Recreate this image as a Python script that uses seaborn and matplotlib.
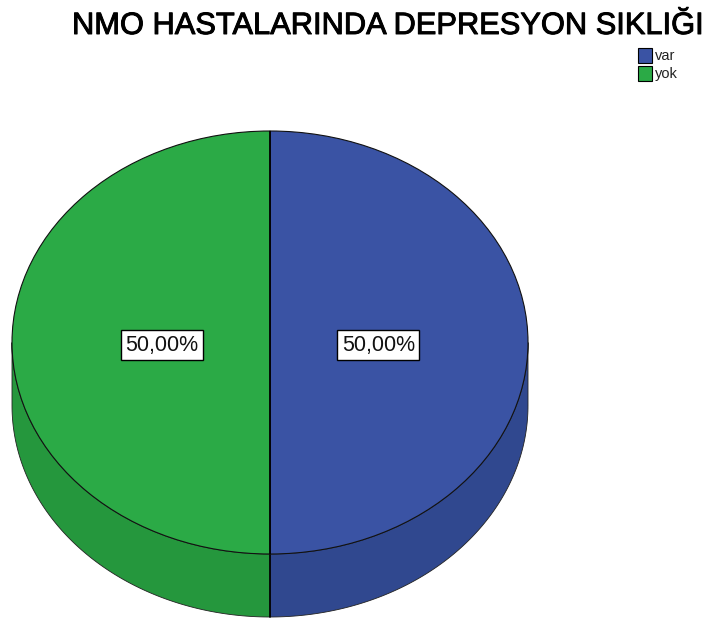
import matplotlib
matplotlib.use("Agg")
import matplotlib.pyplot as plt
import matplotlib.patheffects as pe
import seaborn as sns
import numpy as np
from matplotlib.patches import Polygon, Rectangle

sns.set_theme(style="white")
plt.rcParams['font.family'] = ['Liberation Sans', 'DejaVu Sans']

title = "NMO HASTALARINDA DEPRESYON SIKLIĞI"
categories = ["var", "yok"]
values = [50.0, 50.0]
colors = ["#3a53a4", "#2baa46"]
side_colors = ["#30488f", "#25973d"]

W, H = 709, 619
fig = plt.figure(figsize=(W / 100, H / 100), dpi=100)

# pie bbox in pixels (top ellipse)
x0, x1 = 12, 528
y0, y1 = 131, 554
depth_px = 63
ry_px = (y1 - y0) / 2
ax = fig.add_axes([x0 / W, 1 - y1 / H, (x1 - x0) / W, (y1 - y0) / H])
d = depth_px / ry_px


def side_poly(t0, t1, col):
    ts = np.linspace(np.radians(t0), np.radians(t1), 120)
    top = np.column_stack([np.cos(ts), np.sin(ts)])
    bot = np.column_stack([np.cos(ts[::-1]), np.sin(ts[::-1]) - d])
    pts = np.vstack([top, bot])
    ax.add_patch(Polygon(pts, closed=True, facecolor=col, edgecolor="#222222",
                         linewidth=0.6, clip_on=False, zorder=1))


# visible side walls: var (blue) on right half, yok (green) on left half
side_poly(270, 360, side_colors[0])
side_poly(180, 270, side_colors[1])
ax.plot([0, 0], [-1, -1 - d], color="black", linewidth=1.2, clip_on=False, zorder=2)

wedges, texts, autotexts = ax.pie(
    values, colors=colors, startangle=90, counterclock=False,
    autopct=lambda p: f"{p:.2f}%".replace(".", ","), pctdistance=0.42,
    wedgeprops=dict(edgecolor="#111111", linewidth=0.8),
    textprops=dict(fontsize=15.5, color="#111111"), radius=1, frame=True)
ax.set_aspect("auto")
ax.set_xlim(-1, 1)
ax.set_ylim(-1, 1)
ax.axis("off")
for w in wedges:
    w.set_zorder(3)
ax.plot([0, 0], [-1, 1], color="black", linewidth=1.2, zorder=4)
for t in autotexts:
    x, y = t.get_position()
    t.set_position((x, y - 0.012))
    t.set_bbox(dict(facecolor="white", edgecolor="black", boxstyle="square,pad=0.2", linewidth=1.0))
    t.set_zorder(5)

fig.text(72 / W, 1 - 26 / H, title, fontsize=22.2, ha="left", va="center", color="black",
         path_effects=[pe.withStroke(linewidth=0.7, foreground="black")])

# legend
lax = fig.add_axes([0, 0, 1, 1])
lax.set_xlim(0, W)
lax.set_ylim(H, 0)
lax.axis("off")
for i, (c, lab) in enumerate(zip(colors, categories)):
    yy = 48 + i * 18
    lax.add_patch(Rectangle((638, yy), 14, 15, facecolor=c, edgecolor="black", linewidth=0.8))
    lax.text(655, yy + 8, lab, fontsize=10.5, va="center", ha="left", color="#222222")

fig.savefig("out.png", dpi=100)
